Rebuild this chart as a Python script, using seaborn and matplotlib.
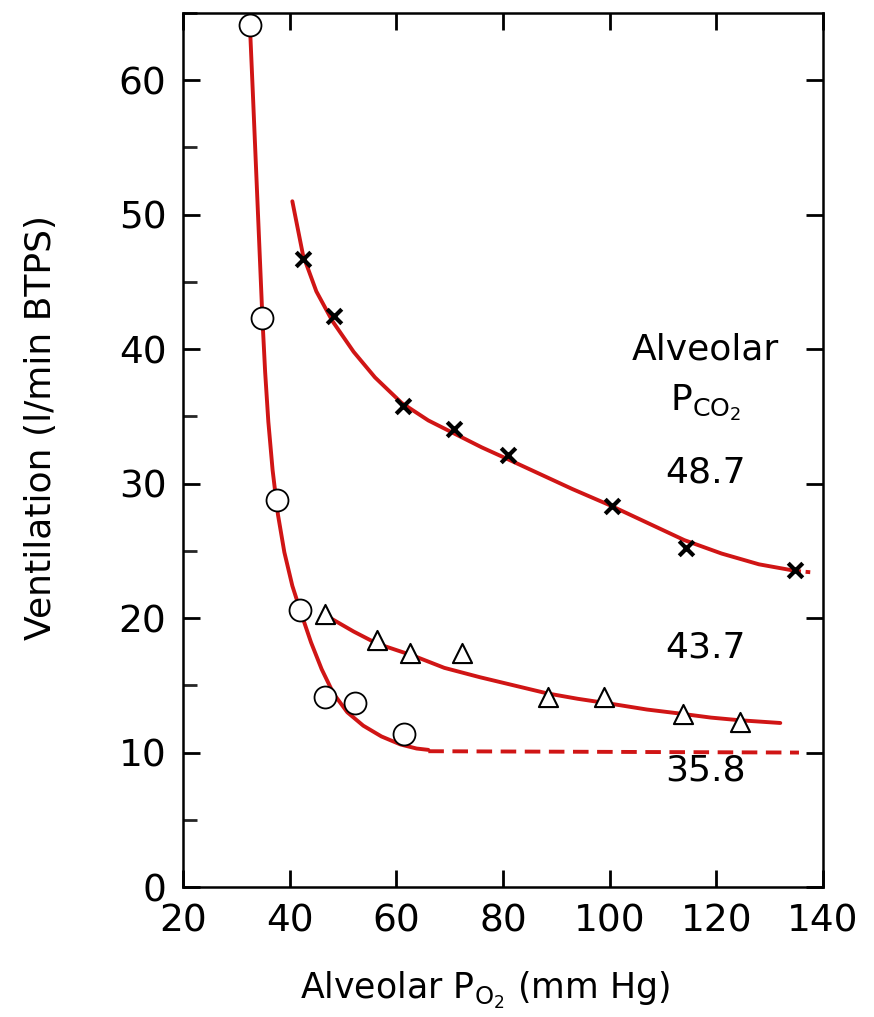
import numpy as np
import pandas as pd
import matplotlib
matplotlib.use("Agg")
import matplotlib.pyplot as plt
import seaborn as sb
from matplotlib.ticker import MultipleLocator

# measured points, alveolar PCO2 35.8 (circles)
po2_358 = [32.6, 34.8, 37.6, 41.9, 46.6, 52.3, 61.5]
ve_358 = [64.1, 42.3, 28.8, 20.6, 14.1, 13.7, 11.4]

# alveolar PCO2 43.7 (triangles)
po2_437 = [46.6, 56.4, 62.6, 72.3, 88.5, 99.0, 113.8, 124.5]
ve_437 = [20.3, 18.4, 17.4, 17.4, 14.1, 14.1, 12.9, 12.3]

# alveolar PCO2 48.7 (crosses)
po2_487 = [42.5, 48.3, 61.3, 70.8, 81.0, 100.5, 114.4, 134.8]
ve_487 = [46.7, 42.5, 35.8, 34.1, 32.1, 28.3, 25.2, 23.6]

# fitted curves
fit_358_x = [32.5, 33.1, 33.7, 34.3, 34.9, 35.4, 36.0, 36.8, 37.8, 39.0, 40.5,
             42.2, 44.0, 46.0, 48.2, 50.8, 53.8, 57.2, 60.8, 63.8, 66.0]
fit_358_y = [64.5, 59.0, 53.4, 47.8, 42.2, 38.3, 34.6, 31.0, 27.7, 24.9, 22.4,
             20.3, 18.2, 16.2, 14.4, 13.0, 12.0, 11.2, 10.6, 10.3, 10.2]
dash_358_x = [66.0, 135.5]
dash_358_y = [10.1, 10.0]

fit_437_x = [47.2, 52.0, 56.4, 63.2, 69.0, 75.7, 82.0, 88.3, 94.0, 100.7,
             107.0, 113.2, 119.0, 124.5, 132.0]
fit_437_y = [20.1, 19.0, 18.1, 17.2, 16.3, 15.6, 15.0, 14.4, 14.0, 13.6,
             13.2, 12.9, 12.6, 12.4, 12.2]

fit_487_x = [40.5, 42.5, 45.0, 48.0, 52.0, 56.0, 61.0, 66.0, 71.0, 76.0, 81.0,
             87.0, 93.0, 100.0, 107.0, 114.0, 121.0, 128.0, 135.0]
fit_487_y = [51.0, 47.0, 44.3, 42.1, 39.8, 37.9, 36.0, 34.7, 33.7, 32.7, 31.8,
             30.7, 29.6, 28.4, 27.1, 25.8, 24.8, 24.0, 23.5]
dash_487_x = [135.0, 138.0]
dash_487_y = [23.5, 23.4]

labels_pco2 = ["48.7", "43.7", "35.8"]
labels_y = [30.8, 17.8, 8.7]

red = "#d01515"

sb.set_theme(style="ticks")
plt.rcParams["font.family"] = ["DejaVu Sans"]
plt.rcParams["mathtext.fontset"] = "dejavusans"
plt.rcParams["text.color"] = "black"
plt.rcParams["axes.labelcolor"] = "black"

fig = plt.figure(figsize=(8.74, 10.17), dpi=100)
ax = fig.add_axes([0.2094, 0.1278, 0.7322, 0.8594])

lw = 2.8
sb.lineplot(x=fit_358_x, y=fit_358_y, sort=False, color=red, lw=lw, ax=ax)
sb.lineplot(x=dash_358_x, y=dash_358_y, sort=False, color=red, lw=lw, ax=ax)
ax.lines[-1].set_dashes([4.0, 2.2])
sb.lineplot(x=fit_437_x, y=fit_437_y, sort=False, color=red, lw=lw, ax=ax)
sb.lineplot(x=fit_487_x, y=fit_487_y, sort=False, color=red, lw=lw, ax=ax)
sb.lineplot(x=dash_487_x, y=dash_487_y, sort=False, color=red, lw=lw, ax=ax)
ax.lines[-1].set_dashes([1.2, 1.2])

sb.scatterplot(x=po2_358, y=ve_358, marker="o", s=250, facecolor="white",
               edgecolor="black", linewidth=1.3, zorder=5, ax=ax)
sb.scatterplot(x=po2_437, y=ve_437, marker="^", s=190, facecolor="white",
               edgecolor="black", linewidth=1.5, zorder=5, ax=ax)
sb.scatterplot(x=po2_487, y=ve_487, marker="x", s=110, color="black",
               linewidth=3.0, zorder=5, ax=ax)

ax.set_xlim(20, 140)
ax.set_ylim(0, 65)
ax.xaxis.set_major_locator(MultipleLocator(20))
ax.yaxis.set_major_locator(MultipleLocator(10))
ax.yaxis.set_minor_locator(MultipleLocator(5))

ax.tick_params(axis="both", which="major", direction="in", length=12, width=2,
               labelsize=27, top=True, right=True, pad=12, colors="black")
ax.tick_params(axis="y", which="minor", direction="in", length=10, width=2,
               left=True, right=False)
for sp in ax.spines.values():
    sp.set_visible(True)
    sp.set_linewidth(1.8)
    sp.set_color("black")

ax.set_xlabel(r"Alveolar P$_{\mathrm{O_2}}$ (mm Hg)", fontsize=25)
ax.xaxis.set_label_coords(0.472, -0.095)
ax.set_ylabel("Ventilation (l/min BTPS)", fontsize=26, va="center")
ax.yaxis.set_label_coords(-0.222, 0.526)

ax.text(118, 40.0, "Alveolar", fontsize=26, ha="center", va="center")
ax.text(118, 36.0, r"P$_{\mathrm{CO_2}}$", fontsize=26, ha="center",
        va="center")
for lab, yy in zip(labels_pco2, labels_y):
    ax.text(118, yy, lab, fontsize=26, ha="center", va="center")

fig.savefig("out.png", dpi=100)
